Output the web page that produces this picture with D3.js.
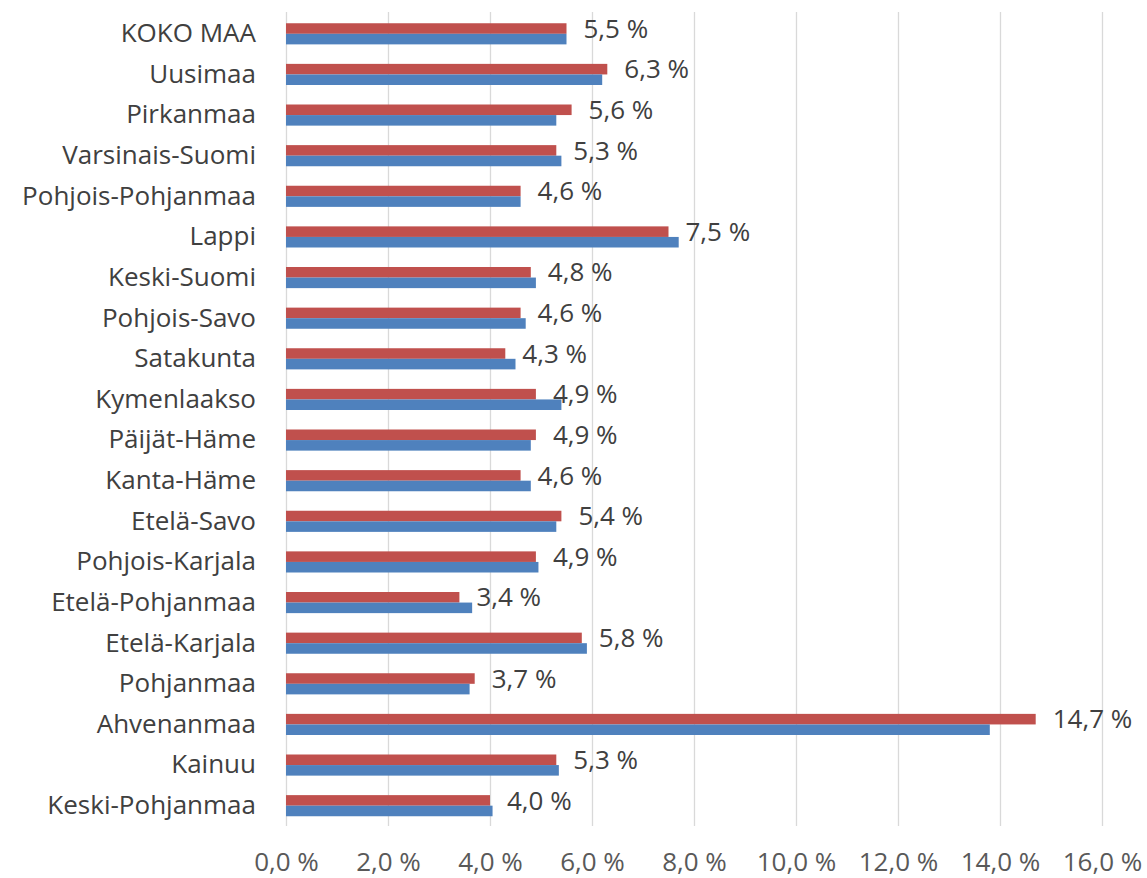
<!DOCTYPE html>
<html>
<head>
<meta charset="utf-8">
<script src="https://cdn.jsdelivr.net/npm/d3@7"></script>
<style>
  body { margin: 0; background: #fff; }
  svg text { font-family: "Open Sans", "DejaVu Sans", sans-serif; }
</style>
</head>
<body>
<svg width="1147" height="878"></svg>
<script>
var regions = ["KOKO MAA", "Uusimaa", "Pirkanmaa", "Varsinais-Suomi", "Pohjois-Pohjanmaa",
  "Lappi", "Keski-Suomi", "Pohjois-Savo", "Satakunta", "Kymenlaakso", "Päijät-Häme",
  "Kanta-Häme", "Etelä-Savo", "Pohjois-Karjala", "Etelä-Pohjanmaa", "Etelä-Karjala",
  "Pohjanmaa", "Ahvenanmaa", "Kainuu", "Keski-Pohjanmaa"];
// red series (labelled) and blue series
var redValues = [5.5, 6.3, 5.6, 5.3, 4.6, 7.5, 4.8, 4.6, 4.3, 4.9, 4.9, 4.6, 5.4, 4.9, 3.4, 5.8, 3.7, 14.7, 5.3, 4.0];
var blueValues = [5.5, 6.2, 5.3, 5.4, 4.6, 7.7, 4.9, 4.7, 4.5, 5.4, 4.8, 4.8, 5.3, 4.95, 3.65, 5.9, 3.6, 13.8, 5.35, 4.05];
var xTicks = [0, 2, 4, 6, 8, 10, 12, 14, 16];

var data = regions.map(function(r, i) {
    return {name: r, red: redValues[i], blue: blueValues[i]};
});

var plotLeft = 286, plotRight = 1102, plotTop = 13.5, plotBottom = 826;

var x = d3.scaleLinear().domain([0, 16]).range([plotLeft, plotRight]);
var y = d3.scaleBand().domain(regions).range([plotTop, plotBottom])
          .paddingInner(0.48).paddingOuter(0.24);
var sub = d3.scaleBand().domain(["red", "blue"]).range([0, y.bandwidth()]);
var colors = {red: "#C0504D", blue: "#4F81BD"};

var fmt = function(v) { return d3.format(".1f")(v).replace(".", ",") + " %"; };

var svg = d3.select("svg");

// gridlines
svg.append("g")
   .attr("transform", "translate(0," + plotBottom + ")")
   .call(d3.axisBottom(x).tickValues(xTicks).tickSize(-(plotBottom - 12)).tickFormat(""))
   .call(function(g) {
       g.select(".domain").remove();
       g.selectAll("line").attr("stroke", "#d9d9d9").attr("stroke-width", 1.3);
   });

// tick labels
svg.append("g")
   .attr("transform", "translate(0," + plotBottom + ")")
   .call(d3.axisBottom(x).tickValues(xTicks).tickSize(0).tickPadding(27).tickFormat(fmt))
   .call(function(g) {
       g.select(".domain").remove();
       g.selectAll("text").attr("fill", "#595959").style("font-size", "26px")
        .style("font-family", "'Open Sans', sans-serif");
   });

// bars
var groups = svg.selectAll(".grp")
    .data(data)
  .enter().append("g")
    .attr("class", "grp")
    .attr("transform", function(d) { return "translate(0," + y(d.name) + ")"; });

groups.selectAll("rect")
    .data(function(d) { return ["red", "blue"].map(function(k) { return {key: k, value: d[k]}; }); })
  .enter().append("rect")
    .attr("x", x(0))
    .attr("y", function(d) { return sub(d.key); })
    .attr("height", sub.bandwidth())
    .attr("width", function(d) { return x(d.value) - x(0); })
    .attr("fill", function(d) { return colors[d.key]; });

// data labels for red series
groups.append("text")
    .attr("x", function(d) { return x(d.red) + 17; })
    .attr("y", sub("red") + sub.bandwidth() / 2)
    .attr("dy", "0.35em")
    .attr("fill", "#404040")
    .style("font-size", "26px")
    .text(function(d) { return fmt(d.red); });

// category labels
svg.append("g")
   .attr("transform", "translate(" + plotLeft + ",0)")
   .call(d3.axisLeft(y).tickSize(0).tickPadding(30))
   .call(function(g) {
       g.select(".domain").remove();
       g.selectAll("text").attr("fill", "#404040").style("font-size", "26px")
        .style("font-family", "'Open Sans', sans-serif");
   });
</script>
</body>
</html>
